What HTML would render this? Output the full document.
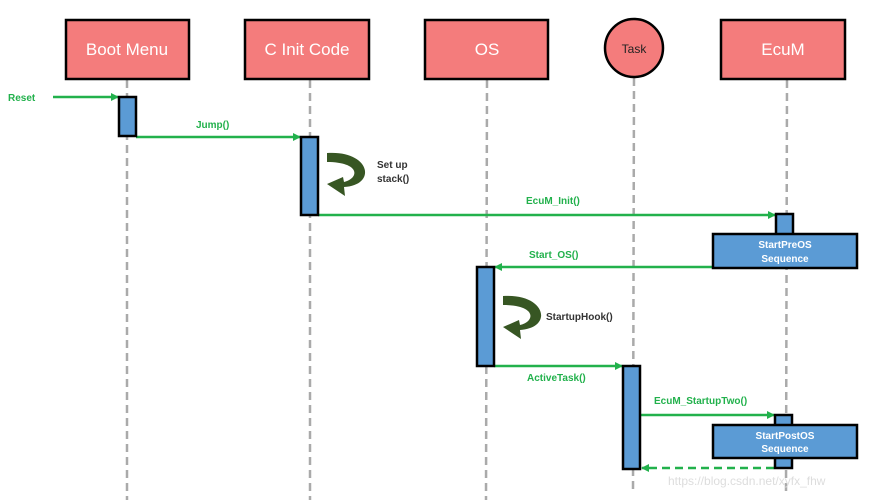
<!DOCTYPE html>
<html><head><style>body{margin:0;background:#fff}svg{display:block}text{font-family:"Liberation Sans",sans-serif}</style></head><body>
<svg width="871" height="504" viewBox="0 0 871 504" xmlns="http://www.w3.org/2000/svg">
<defs><marker id="a" markerWidth="8" markerHeight="8" refX="7" refY="4" orient="auto" markerUnits="userSpaceOnUse"><path d="M0,0 L8,4 L0,8 z" fill="#22b14c"/></marker></defs>
<g stroke="#aaa" stroke-width="2.5" stroke-dasharray="8,5">
<line x1="127" y1="80" x2="127" y2="500"/><line x1="310" y1="80" x2="310" y2="500"/><line x1="487" y1="80" x2="486" y2="500"/><line x1="634" y1="78" x2="633" y2="490"/><line x1="787" y1="80" x2="786" y2="495"/></g>
<g fill="#f47c7c" stroke="#000" stroke-width="2.5">
<rect x="66" y="20" width="123" height="59"/><rect x="245" y="20" width="124" height="59"/><rect x="425" y="20" width="123" height="59"/><rect x="721" y="20" width="124" height="59"/><circle cx="634" cy="48" r="29"/></g>
<g fill="#fff" font-size="17" text-anchor="middle"><text x="127" y="55">Boot Menu</text><text x="307" y="55">C Init Code</text><text x="487" y="55">OS</text><text x="783" y="55">EcuM</text><text x="634" y="53" font-size="12" fill="#222">Task</text></g>
<g stroke="#22b14c" stroke-width="2.5" fill="none" marker-end="url(#a)">
<line x1="53" y1="97" x2="118" y2="97"/><line x1="136" y1="137" x2="300" y2="137"/><line x1="318" y1="215" x2="775" y2="215"/><line x1="713" y1="267" x2="495" y2="267"/><line x1="494" y1="366" x2="622" y2="366"/><line x1="640" y1="415" x2="774" y2="415"/><line x1="774" y1="468" x2="642" y2="468" stroke-dasharray="8,5"/></g>
<g fill="#5b9bd5" stroke="#000" stroke-width="2.5">
<rect x="119" y="97" width="17" height="39"/><rect x="301" y="137" width="17" height="78"/><rect x="776" y="214" width="17" height="22"/><rect x="713" y="234" width="144" height="34"/><rect x="477" y="267" width="17" height="99"/><rect x="623" y="366" width="17" height="103"/><rect x="775" y="415" width="17" height="53"/><rect x="713" y="425" width="144" height="33"/></g>
<g fill="#fff" font-size="10" font-weight="bold" text-anchor="middle"><text x="785" y="248">StartPreOS</text><text x="785" y="262">Sequence</text><text x="785" y="439">StartPostOS</text><text x="785" y="452">Sequence</text></g>
<g fill="#22b14c" font-size="10" font-weight="bold"><text x="8" y="101">Reset</text><text x="196" y="128">Jump()</text><text x="526" y="204">EcuM_Init()</text><text x="529" y="258">Start_OS()</text><text x="527" y="381">ActiveTask()</text><text x="654" y="404">EcuM_StartupTwo()</text></g>
<g fill="#333" font-size="10" font-weight="bold"><text x="377" y="168">Set up</text><text x="377" y="182">stack()</text><text x="546" y="320">StartupHook()</text></g>
<g fill="#375623"><path d="M327,153 C370,150 378,185 344,187 L345,196 L327,184 L343,177 L344,182 C360,178 360,162 327,162 Z"/><path d="M503,296 C546,293 554,328 520,330 L521,339 L503,327 L519,320 L520,325 C536,321 536,305 503,305 Z"/></g>
<text x="668" y="485" font-size="12" fill="#ddd">https://blog.csdn.net/xyfx_fhw</text>
</svg></body></html>
